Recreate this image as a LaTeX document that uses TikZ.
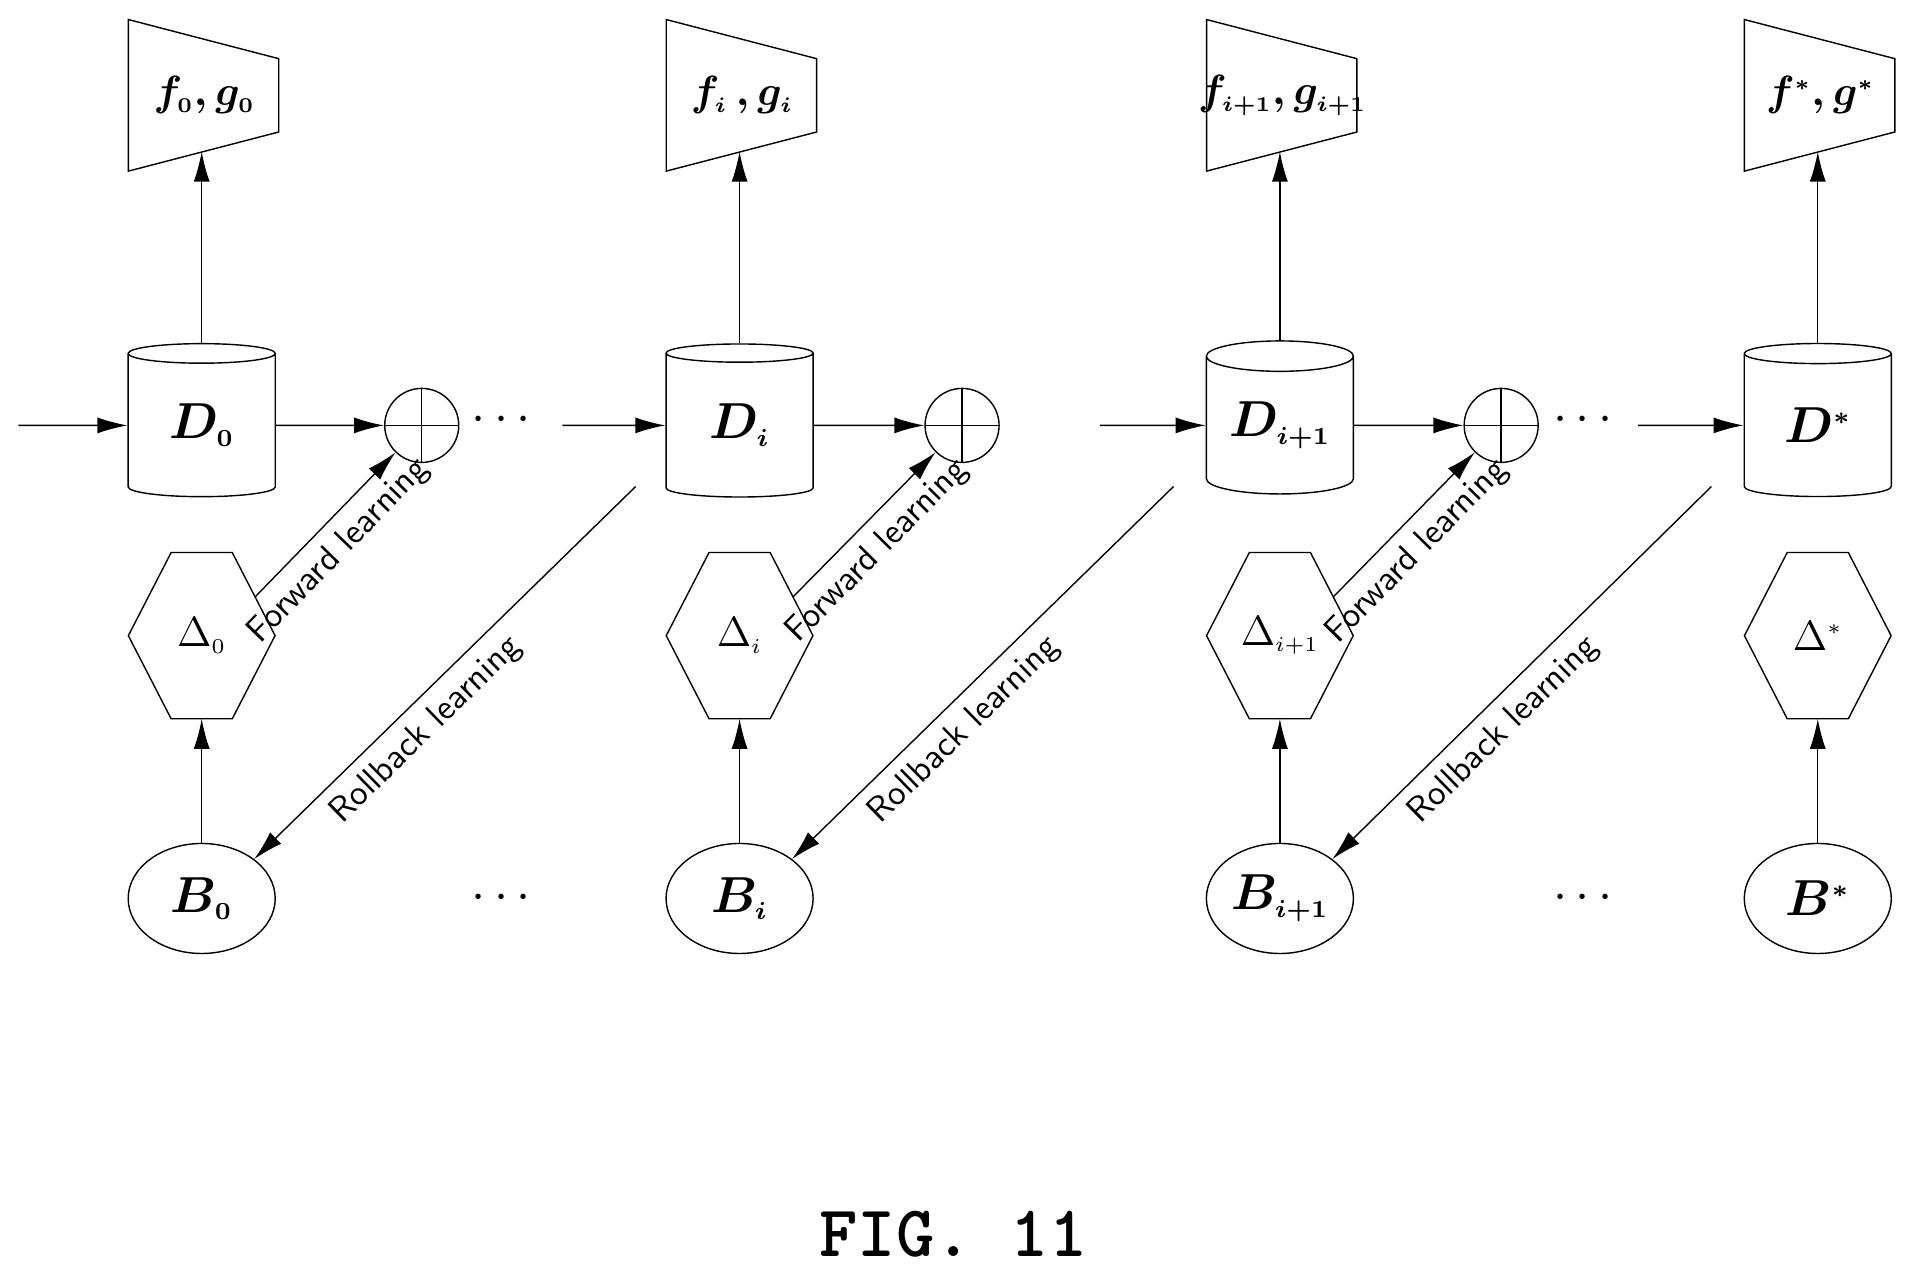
\documentclass[tikz,border=0pt]{standalone}
\usetikzlibrary{shapes.geometric,arrows.meta}
\tikzset{
  box/.style={draw,thin},
  db/.style={box,cylinder,shape border rotate=90,aspect=0.3,minimum width=1.47cm,minimum height=1.53cm,inner sep=0pt,font=\Large\boldmath},
  sum/.style={box,circle,minimum size=0.74cm,inner sep=0pt,path picture={\draw (path picture bounding box.north) -- (path picture bounding box.south) (path picture bounding box.west) -- (path picture bounding box.east);}},
  bag/.style={box,ellipse,minimum width=1.47cm,minimum height=1.1cm,inner sep=0pt,font=\Large\boldmath},
  lbl/.style={font=\sffamily,sloped,below},
  arr/.style={-{Latex[length=3mm,width=1.6mm]},thin},
}
% one column: name, x, D label, f/g label, Delta label, B label
\newcommand{\stage}[6]{%
  \draw[box] (#2-60,16) -- (#2+63,48) -- (#2+63,108) -- (#2-60,140) -- cycle;
  \node[font=\large\boldmath] (F#1) at (#2+2,78) {#4};
  \coordinate (Fb#1) at (#2,124);
  \node[db] (D#1) at (#2,348) {#3};
  \draw[box] (#2-25,452) -- (#2+25,452) -- (#2+60,520) -- (#2+25,588) -- (#2-25,588) -- (#2-60,520) -- cycle;
  \node[font=\large] (H#1) at (#2,520) {#5};
  \coordinate (Ht#1) at (#2,588);
  \coordinate (Hn#1) at (#2+44,488);
  \node[bag] (B#1) at (#2,735) {#6};
  \draw[arr] (D#1.top) -- (Fb#1);
  \draw[arr] (B#1) -- (Ht#1);
}
\begin{document}
\begin{tikzpicture}[x=0.012224cm,y=-0.012224cm]
  \useasboundingbox (0,0) rectangle (1560,1038);
  \stage{0}{165}{$D_{\scriptscriptstyle 0}$}{$f_{\scriptscriptstyle 0},g_{\scriptscriptstyle 0}$}{$\Delta_{\scriptscriptstyle 0}$}{$B_{\scriptscriptstyle 0}$}
  \stage{1}{605}{$D_{\scriptscriptstyle i}$}{$f_{\scriptscriptstyle i}\,,g_{\scriptscriptstyle i}$}{$\Delta_{\scriptscriptstyle i}$}{$B_{\scriptscriptstyle i}$}
  \stage{2}{1047}{$D_{\scriptscriptstyle i+1}$}{$f_{\scriptscriptstyle i+1},g_{\scriptscriptstyle i+1}$}{$\Delta_{\scriptscriptstyle i+1}$}{$B_{\scriptscriptstyle i+1}$}
  \stage{3}{1487}{$D^{\scriptscriptstyle *}$}{$f^{\scriptscriptstyle *},g^{\scriptscriptstyle *}$}{$\Delta^{\scriptscriptstyle *}$}{$B^{\scriptscriptstyle *}$}
  \node[sum] (S0) at (345,348) {};
  \node[sum] (S1) at (787,348) {};
  \node[sum] (S2) at (1228,348) {};
  \coordinate (in0) at (15,348);
  \coordinate (in1) at (460,348);
  \coordinate (in2) at (900,348);
  \coordinate (in3) at (1340,348);
  \draw[arr] (in0) -- (D0);
  \draw[arr] (in1) -- (D1);
  \draw[arr] (in2) -- (D2);
  \draw[arr] (in3) -- (D3);
  \foreach \i in {0,1,2} {
    \draw[arr] (D\i) -- (S\i);
    \draw[arr] (Hn\i) -- node[lbl,pos=0.45] {Forward learning} (S\i);
  }
  \coordinate (rb1) at (520,398);
  \coordinate (rb2) at (960,398);
  \coordinate (rb3) at (1400,398);
  \draw[arr] (rb1) -- node[lbl,pos=0.6] {Rollback learning} (B0.north east);
  \draw[arr] (rb2) -- node[lbl,pos=0.6] {Rollback learning} (B1.north east);
  \draw[arr] (rb3) -- node[lbl,pos=0.6] {Rollback learning} (B2.north east);
  \node[font=\Large] (dt0) at (410,344) {$\cdots$};
  \node[font=\Large] (dt1) at (1295,344) {$\cdots$};
  \node[font=\Large] (dt2) at (410,735) {$\cdots$};
  \node[font=\Large] (dt3) at (1295,735) {$\cdots$};
  \node[font=\ttfamily\bfseries\huge] (fig) at (780,1010) {FIG. 11};
\end{tikzpicture}
\end{document}
